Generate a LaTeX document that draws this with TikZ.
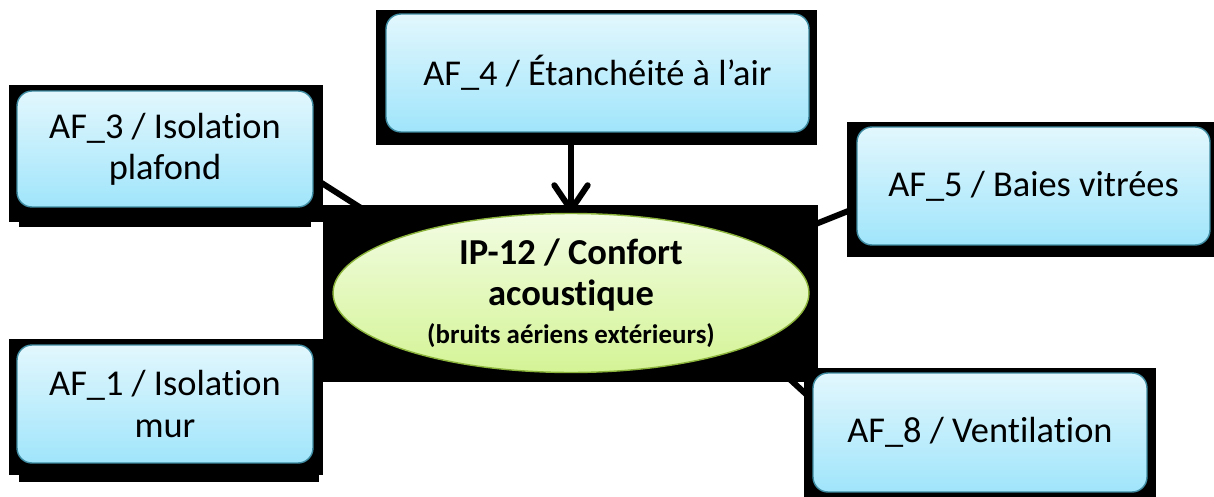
\documentclass[tikz,border=0pt]{standalone}
\usepackage{fontspec}
\setmainfont{Carlito}[Ligatures=NoCommon]
\usetikzlibrary{arrows.meta,shapes.geometric,calc}
\definecolor{boxtop}{RGB}{226,247,253}
\definecolor{boxbot}{RGB}{160,229,251}
\definecolor{boxline}{RGB}{64,140,162}
\definecolor{ovaltop}{RGB}{242,252,226}
\definecolor{ovalbot}{RGB}{212,244,150}
\definecolor{ovalline}{RGB}{140,180,60}
\pgfdeclarelayer{links}
\pgfdeclarelayer{panels}
\pgfsetlayers{links,panels,main}

\begin{document}
\begin{tikzpicture}[
    x=0.02cm, y=-0.02cm,
    afbox/.style={rectangle, draw=boxline, line width=0.8pt, rounded corners=8.5pt, top color=boxtop, bottom color=boxbot, align=center, inner sep=0pt, font=\fontsize{20.7}{23.5}\selectfont},
    oval/.style={ellipse, draw=ovalline, line width=0.8pt, top color=ovaltop, bottom color=ovalbot, align=center, inner sep=0pt, minimum width=9.52cm, minimum height=3.18cm, font=\bfseries\fontsize{20.8}{23.8}\selectfont},
    link/.style={line width=3.4pt, black},
    arrow/.style={line width=3.4pt, black, -{Straight Barb[length=14pt, width=19pt, round]}},
]
    \useasboundingbox (0,0) rectangle (1214,497);

    % Central indicator
    \node[oval] (ip12) at (571,293) {IP-12 / Confort\\acoustique\\[-2.5pt]
        {\fontsize{15.3}{18}\selectfont (bruits aériens extérieurs)}};

    % Action fields
    \node[afbox, minimum width=8.46cm, minimum height=2.36cm] (af4) at (597.5,73) {\raisebox{-2pt}{AF\_4 / Étanchéité à l’air}};
    \node[afbox, minimum width=5.92cm, minimum height=2.32cm] (af3) at (165,149) {AF\_3 / Isolation\\plafond};
    \node[afbox, minimum width=5.92cm, minimum height=2.36cm] (af1) at (165,404) {AF\_1 / Isolation\\mur};
    \node[afbox, minimum width=7.06cm, minimum height=2.36cm] (af5) at (1033.5,186) {\raisebox{-2pt}{AF\_5 / Baies vitrées}};
    \node[afbox, minimum width=6.68cm, minimum height=2.38cm] (af8) at (980,432.5) {\raisebox{-2pt}{AF\_8 / Ventilation}};

    % Black panels behind the boxes
    \begin{pgfonlayer}{panels}
        \fill (376,10) rectangle (817,145);
        \fill (9,85) rectangle (323,222);
        \fill (19,222) rectangle (311,227);
        \fill (9,339) rectangle (323,475);
        \fill (19,475) rectangle (319,482);
        \fill (847,122) rectangle (1214,257);
        \fill (804,368) rectangle (1156,497);
        \fill (323,205) rectangle (818,382);
    \end{pgfonlayer}

    % Connectors
    \begin{pgfonlayer}{links}
        \draw[arrow] (af4.south -| ip12.north) -- (ip12.north);
        \draw[link] (af3.-11) -- (ip12.161);
        \draw[link] (af5.187) -- (ip12.14);
        \draw[link] (ip12.-16) -- (af8.169);
    \end{pgfonlayer}
\end{tikzpicture}
\end{document}
